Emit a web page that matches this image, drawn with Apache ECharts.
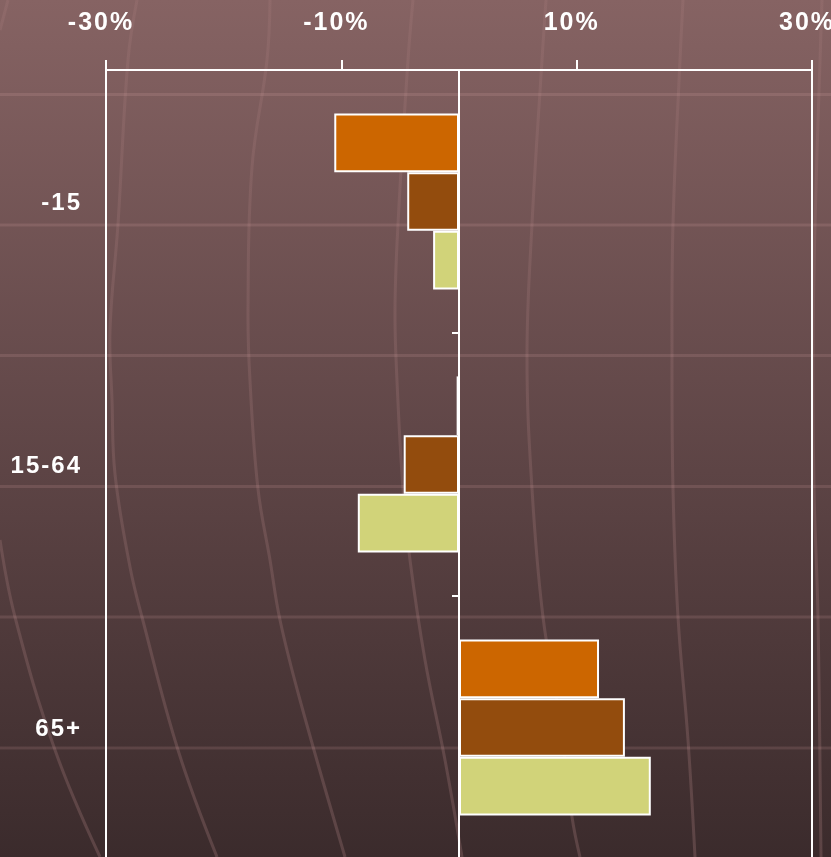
<!DOCTYPE html>
<html>
<head>
<meta charset="utf-8">
<script src="https://cdn.jsdelivr.net/npm/echarts@6/dist/echarts.min.js"></script>
<style>
  html, body { margin: 0; padding: 0; background: #5e4546; }
  #chart { width: 831px; height: 857px; }
</style>
</head>
<body>
<div id="chart"></div>
<script>
// Age groups (top to bottom)
const categories = ['-15', '15-64', '65+'];
// Change in share of each age group, in %
const seriesOrange = [-10.6, -0.2, 11.9];
const seriesBrown  = [-4.4, -4.7, 14.1];
const seriesGreen  = [-2.2, -8.6, 16.3];
// Value axis range and tick step
const axisMin = -30;
const axisMax = 30;
const axisStep = 20;

const FONT = "'Liberation Sans', Arial, sans-serif";

// Spread characters apart, one rich token per character
function spaced(str) {
  return Array.from(str).map(ch => '{c|' + ch + '}').join('');
}

const chart = echarts.init(document.getElementById('chart'), null, { renderer: 'canvas' });
const W = 831, H = 857;

// Decorative backdrop: gradient, horizontal rules and curved meridians
const ruleStroke = 'rgba(255,190,190,0.13)';
const curveStroke = new echarts.graphic.LinearGradient(0, 0, 0, H, [
  { offset: 0, color: 'rgba(255,190,190,0.07)' },
  { offset: 1, color: 'rgba(255,190,190,0.17)' }
], true);
const backdrop = [{
  type: 'rect', z: -100, silent: true,
  shape: { x: 0, y: 0, width: W, height: H },
  style: {
    fill: new echarts.graphic.LinearGradient(0, 0, 0, 1, [
      { offset: 0, color: '#866363' },
      { offset: 0.55, color: '#5d4445' },
      { offset: 1, color: '#3b2b2c' }
    ])
  }
}];
[94.5, 225, 355.5, 486.5, 617, 748].forEach(y => {
  backdrop.push({
    type: 'line', z: -90, silent: true,
    shape: { x1: 0, y1: y, x2: W, y2: y },
    style: { stroke: ruleStroke, lineWidth: 3 }
  });
});
const meridians = [
  [[8, 0], [0, 30]],
  [[0, 540], [15, 617], [55, 750], [100, 857]],
  [[137, 0], [128, 60], [118, 224], [110, 330], [112, 400], [115, 474], [130, 567], [142, 617], [178, 750], [217, 857]],
  [[270, 0], [267, 60], [252, 167], [248, 310], [250, 381], [258, 489], [270, 560], [280, 620], [300, 700], [345, 857]],
  [[413, 0], [408, 60], [398, 224], [395, 310], [397, 381], [403, 489], [410, 560], [425, 660], [445, 760], [462, 857]],
  [[546, 0], [542, 60], [532, 224], [527, 356], [532, 489], [543, 617], [560, 720], [572, 817], [580, 857]],
  [[683, 0], [680, 60], [673, 224], [672, 356], [673, 489], [678, 617], [688, 740], [695, 857]],
  [[822, 0], [815, 224], [813, 356], [814, 489], [818, 617], [821, 857]]
];
meridians.forEach(pts => {
  backdrop.push({
    type: 'polyline', z: -90, silent: true,
    shape: { points: pts, smooth: 0.4 },
    style: { stroke: curveStroke, lineWidth: 3, fill: null }
  });
});

const barStyle = color => ({ color: color, borderColor: '#ffffff', borderWidth: 2 });

const option = {
  animation: false,
  graphic: backdrop,
  grid: {
    left: 106, right: 19, top: 70, bottom: -2,
    show: true, borderColor: '#ffffff', borderWidth: 2,
    backgroundColor: 'transparent',
    outerBoundsMode: 'none'
  },
  xAxis: {
    type: 'value', position: 'top',
    min: axisMin, max: axisMax, interval: axisStep,
    axisLine: { show: true, lineStyle: { color: '#ffffff', width: 2 } },
    axisTick: { show: true, length: 10, lineStyle: { color: '#ffffff', width: 2 } },
    splitLine: { show: false },
    axisLabel: {
      margin: 34,
      padding: [0, 10, 0, 0],
      formatter: v => spaced(v + '%'),
      rich: {
        c: { color: '#ffffff', fontFamily: FONT, fontWeight: 'bold', fontSize: 25, padding: [0, 2, 0, 0] }
      }
    }
  },
  yAxis: [{
    type: 'category', inverse: true, data: categories,
    axisLine: { show: true, onZero: true, lineStyle: { color: '#ffffff', width: 2 } },
    axisTick: { show: true, length: 7, lineStyle: { color: '#ffffff', width: 2 } },
    axisLabel: { show: false },
    splitLine: { show: false }
  }, {
    type: 'category', inverse: true, data: categories, position: 'left',
    axisLine: { show: false, onZero: false },
    axisTick: { show: false },
    splitLine: { show: false },
    axisLabel: {
      margin: 24,
      padding: [4, 0, 0, 0],
      formatter: v => spaced(v),
      rich: {
        c: { color: '#ffffff', fontFamily: FONT, fontWeight: 'bold', fontSize: 24, padding: [0, 2, 0, 0] }
      }
    }
  }],
  series: [
    { name: 'orange', type: 'bar', yAxisIndex: 0, data: seriesOrange, barGap: '0%', barCategoryGap: '33%', itemStyle: barStyle('#cc6600') },
    { name: 'brown',  type: 'bar', yAxisIndex: 0, data: seriesBrown,  barGap: '0%', barCategoryGap: '33%', itemStyle: barStyle('#934c0d') },
    { name: 'green',  type: 'bar', yAxisIndex: 0, data: seriesGreen,  barGap: '0%', barCategoryGap: '33%', itemStyle: barStyle('#d1d379') }
  ]
};
chart.setOption(option);
</script>
</body>
</html>
